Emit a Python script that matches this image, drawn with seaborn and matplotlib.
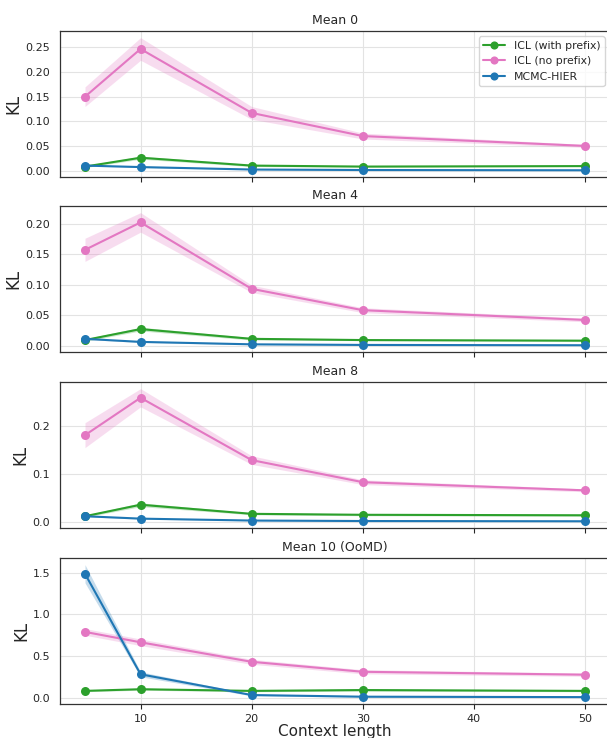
import numpy as np
import pandas as pd
import matplotlib
matplotlib.use("Agg")
import matplotlib.pyplot as plt
import seaborn as sns

sns.set_style("ticks")
plt.rcParams['font.family'] = ['DejaVu Sans']
plt.rcParams['xtick.major.size'] = 3.5
plt.rcParams['ytick.major.size'] = 0
plt.rcParams['xtick.major.pad'] = 3.5
plt.rcParams['ytick.major.pad'] = 7
plt.rcParams['xtick.major.width'] = 0.8

context = [5, 10, 20, 30, 50]
titles = ["Mean 0", "Mean 4", "Mean 8", "Mean 10 (OoMD)"]
series_names = ["ICL (with prefix)", "ICL (no prefix)", "MCMC-HIER"]
colors = ["#2ca02c", "#e377c2", "#1f77b4"]

# means per panel per series
with_prefix = [
    [0.008, 0.026, 0.010, 0.008, 0.009],
    [0.009, 0.027, 0.011, 0.009, 0.008],
    [0.011, 0.035, 0.016, 0.014, 0.013],
    [0.080, 0.100, 0.080, 0.090, 0.080],
]
no_prefix = [
    [0.150, 0.247, 0.117, 0.070, 0.050],
    [0.157, 0.202, 0.093, 0.058, 0.042],
    [0.180, 0.258, 0.128, 0.082, 0.065],
    [0.790, 0.665, 0.430, 0.310, 0.275],
]
mcmc = [
    [0.010, 0.007, 0.002, 0.001, 0.0005],
    [0.011, 0.006, 0.002, 0.001, 0.0005],
    [0.011, 0.006, 0.002, 0.001, 0.0005],
    [1.490, 0.280, 0.030, 0.010, 0.005],
]
# band half-widths
with_prefix_err = [
    [0.002, 0.003, 0.002, 0.001, 0.001],
    [0.002, 0.003, 0.002, 0.001, 0.001],
    [0.002, 0.004, 0.002, 0.002, 0.002],
    [0.010, 0.012, 0.010, 0.012, 0.010],
]
no_prefix_err = [
    [0.020, 0.023, 0.013, 0.006, 0.003],
    [0.019, 0.016, 0.006, 0.004, 0.003],
    [0.026, 0.019, 0.009, 0.005, 0.003],
    [0.040, 0.040, 0.030, 0.025, 0.020],
]
mcmc_err = [
    [0.001, 0.001, 0.0005, 0.0003, 0.0002],
    [0.001, 0.001, 0.0005, 0.0003, 0.0002],
    [0.001, 0.001, 0.0005, 0.0003, 0.0002],
    [0.110, 0.030, 0.010, 0.005, 0.003],
]

fig = plt.figure(figsize=(6.07, 7.38), dpi=100)
W, H = 607, 738
left, right = 60, 610
tops = [31, 206, 382, 558]
ph = 146
axes = []
for i, t in enumerate(tops):
    ax = fig.add_axes([left / W, 1 - (t + ph) / H, (right - left) / W, ph / H])
    axes.append(ax)

for i, ax in enumerate(axes):
    all_series = [(with_prefix[i], with_prefix_err[i]),
                  (no_prefix[i], no_prefix_err[i]),
                  (mcmc[i], mcmc_err[i])]
    for name, color, (vals, err) in zip(series_names, colors, all_series):
        df = pd.DataFrame({"Context length": context, "KL": vals})
        sns.lineplot(data=df, x="Context length", y="KL", ax=ax, color=color,
                     marker="o", markersize=6.5, markeredgewidth=0, linewidth=1.5,
                     label=name if i == 0 else None, legend=False)
        lo = np.array(vals) - np.array(err)
        hi = np.array(vals) + np.array(err)
        ax.fill_between(context, lo, hi, color=color, alpha=0.25, linewidth=0)
    ax.set_title(titles[i], fontsize=9, pad=5)
    ax.set_ylabel("KL", fontsize=12, labelpad=2)
    ax.grid(True, color="#e3e3e3", linewidth=0.8)
    ax.set_axisbelow(True)
    ax.set_xlim(2.75, 52.25)
    ax.set_xticks([10, 20, 30, 40, 50])
    ax.tick_params(labelsize=8)
    for s in ax.spines.values():
        s.set_color("#333333")
        s.set_linewidth(0.9)
    if i < 3:
        ax.set_xticklabels([])
        ax.set_xlabel("")
    else:
        ax.set_xlabel("Context length", fontsize=11, labelpad=0)

axes[0].legend(loc="upper right", fontsize=7.8, frameon=True, markerscale=0.9)
axes[0].set_yticks([0.0, 0.05, 0.10, 0.15, 0.20, 0.25])
axes[1].set_yticks([0.0, 0.05, 0.10, 0.15, 0.20])
axes[2].set_yticks([0.0, 0.1, 0.2])
axes[3].set_yticks([0.0, 0.5, 1.0, 1.5])

fig.savefig("out.png", dpi=100)
